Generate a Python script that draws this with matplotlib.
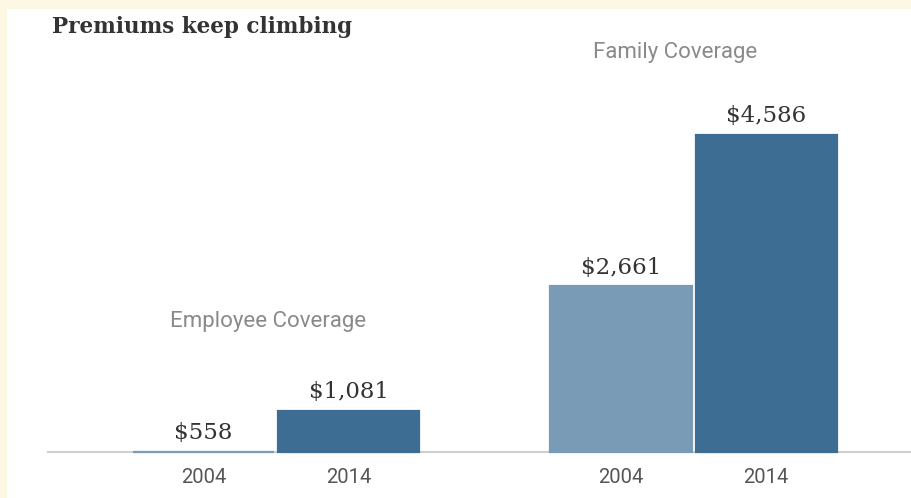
import numpy as np
import matplotlib.pyplot as plt
from matplotlib.patches import Rectangle

groups = ['Employee Coverage', 'Family Coverage']
years = ['2004', '2014']
premiums_2004 = [558, 2661]
premiums_2014 = [1081, 4586]

c_2004 = '#7a9bb6'
c_2014 = '#3e6d93'
grey_txt = '#8a8a8a'
sans = ['Liberation Sans Narrow', 'Roboto']

fig = plt.figure(figsize=(9.12, 4.98), dpi=100, facecolor='#fdf8e3')
# white card sitting on the cream page
fig.patches.append(Rectangle((7 / 912, 0), 1, 1 - 9 / 498, transform=fig.transFigure,
                             facecolor='white', edgecolor='none', zorder=-10))

ax = fig.add_axes([48 / 912, 46 / 498, 1 - 48 / 912, 443 / 498])
ax.set_facecolor('none')

x = np.arange(len(groups))
w = 0.338
off = 0.1737
base = premiums_2004[0]  # axis starts at the smallest value

for xs, vals, col in [(x - off, premiums_2004, c_2004), (x + off, premiums_2014, c_2014)]:
    hts = [v - base for v in vals]
    bars = ax.bar(xs, hts, width=w, bottom=base, color=col, edgecolor=col,
                  linewidth=1.6, zorder=3)
    for b in bars:
        b.set_clip_on(False)
    for xi, v in zip(xs, vals):
        ax.text(xi, v + 100, f'${v:,}', ha='center', va='bottom', fontsize=16.5,
                family='DejaVu Serif', color='#333333')

ax.set_xlim(-0.546, 1.523)
ax.set_ylim(base, base + 443 / 0.0787)

# year labels under each bar
for xi in x:
    for dx, yr in [(-off, years[0]), (off, years[1])]:
        ax.text(xi + dx, base - 330, yr, ha='center', va='center', fontsize=14.5,
                family=sans, color='#555555')

# group names
ax.text(x[0] - 0.02, 2220, groups[0], ha='center', va='center', fontsize=16,
        family=sans, color=grey_txt)
ax.text(x[1] - 0.045, 5630, groups[1], ha='center', va='center', fontsize=16,
        family=sans, color=grey_txt)

for s in ['top', 'right', 'left']:
    ax.spines[s].set_visible(False)
ax.spines['bottom'].set_color('#cfcfcf')
ax.spines['bottom'].set_linewidth(1.5)
ax.set_xticks([])
ax.set_yticks([])

fig.text(52 / 912, 1 - 27 / 498, 'Premiums keep climbing', ha='left', va='center',
         fontsize=15.5, fontweight='bold', family='DejaVu Serif', color='#333333')

fig.savefig('out.png', dpi=100, facecolor=fig.get_facecolor())
